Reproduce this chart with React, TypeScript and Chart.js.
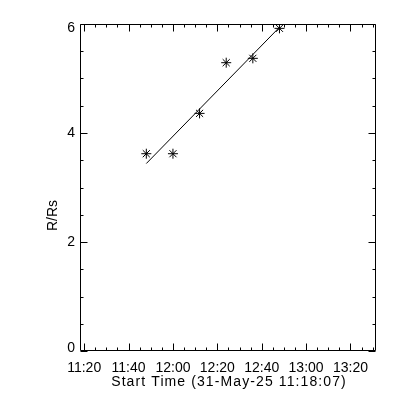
import React, { useEffect, useRef } from "react";
import { Chart, registerables } from "chart.js";

Chart.register(...registerables);

// ---- data ----
const obsTimes = ["11:48", "12:00", "12:12", "12:24", "12:36", "12:48"];
const obsHeights = [3.62, 3.62, 4.36, 5.29, 5.37, 5.92];
const fitTimes = ["11:48", "12:48"];
const fitHeights = [3.44, 5.94];
const xTickLabels = ["11:20", "11:40", "12:00", "12:20", "12:40", "13:00", "13:20"];
const yTickValues = [0, 2, 4, 6];
const axisStart = "11:18:07";
const axisEnd = "13:31:30";
const xTitle = "Start Time (31-May-25 11:18:07)";
const yTitle = "R/Rs";

const toMin = (t: string) => {
  const p = t.split(":").map(Number);
  return p[0] * 60 + p[1] + (p[2] || 0) / 60;
};

const FONT = '14px "Liberation Sans", Arial, sans-serif';

const idlAxes = {
  id: "idlAxes",
  afterDraw(chart: any) {
    const ctx = chart.ctx as CanvasRenderingContext2D;
    const a = chart.chartArea;
    const xs = chart.scales.x;
    const ys = chart.scales.y;
    const L = Math.round(a.left) + 0.5;
    const R = Math.round(a.right) - 0.5;
    const T = Math.round(a.top) + 0.5;
    const B = Math.round(a.bottom) - 0.5;
    ctx.save();
    ctx.strokeStyle = "#000";
    ctx.lineWidth = 1;
    ctx.beginPath();
    ctx.rect(L, T, R - L, B - T);
    ctx.stroke();

    // x ticks (minor every 5 min, major every 20 min)
    ctx.beginPath();
    const xmin = xs.min, xmax = xs.max;
    for (let v = Math.ceil(xmin / 5) * 5; v <= xmax; v += 5) {
      const px = Math.round(xs.getPixelForValue(v)) + 0.5;
      const len = v % 20 === 0 ? 7 : 3;
      ctx.moveTo(px, B);
      ctx.lineTo(px, B - len);
      ctx.moveTo(px, T);
      ctx.lineTo(px, T + len);
    }
    // y ticks (minor every 0.5, major every 2)
    for (let v = 0; v <= 6.0001; v += 0.5) {
      const py = Math.round(ys.getPixelForValue(v)) + 0.5;
      const len = Math.abs(v % 2) < 1e-6 ? 7 : 3;
      ctx.moveTo(L, py);
      ctx.lineTo(L + len, py);
      ctx.moveTo(R, py);
      ctx.lineTo(R - len, py);
    }
    ctx.stroke();

    ctx.fillStyle = "#000";
    ctx.font = FONT;
    ctx.textAlign = "center";
    ctx.textBaseline = "alphabetic";
    xTickLabels.forEach((lab) => {
      const px = xs.getPixelForValue(toMin(lab));
      ctx.fillText(lab, px, a.bottom + 21);
    });
    ctx.textAlign = "right";
    ctx.textBaseline = "middle";
    yTickValues.forEach((v) => {
      let py = ys.getPixelForValue(v);
      py = Math.min(Math.max(py, a.top + 4), a.bottom - 3);
      ctx.fillText(String(v), a.left - 5, py);
    });
    ctx.textAlign = "center";
    ctx.textBaseline = "alphabetic";
    (ctx as any).letterSpacing = "1.1px";
    ctx.fillText(xTitle, (a.left + a.right) / 2 + 1, a.bottom + 35);
    (ctx as any).letterSpacing = "0px";
    ctx.save();
    ctx.translate(57, (a.top + a.bottom) / 2 + 28);
    ctx.rotate(-Math.PI / 2);
    ctx.fillText(yTitle, 0, 0);
    ctx.restore();
    ctx.restore();
  },
};

export default function App() {
  const ref = useRef<HTMLCanvasElement>(null);
  useEffect(() => {
    if (!ref.current) return;
    const chart = new Chart(ref.current, {
      type: "scatter",
      data: {
        datasets: [
          {
            type: "line",
            data: fitTimes.map((t, i) => ({ x: toMin(t), y: fitHeights[i] })),
            borderColor: "#000",
            borderWidth: 1,
            pointRadius: 0,
            fill: false,
          } as any,
          {
            type: "scatter",
            data: obsTimes.map((t, i) => ({ x: toMin(t), y: obsHeights[i] })),
            pointStyle: "star",
            pointRadius: 5,
            borderColor: "#000",
            backgroundColor: "#000",
            pointBorderWidth: 1,
            borderWidth: 1,
          } as any,
        ],
      },
      options: {
        responsive: false,
        animation: false,
        layout: { padding: { left: 80, top: 24, right: 24, bottom: 49 } },
        plugins: { legend: { display: false }, tooltip: { enabled: false } },
        scales: {
          x: { type: "linear", min: toMin(axisStart), max: toMin(axisEnd), display: false },
          y: { type: "linear", min: 0, max: 6, display: false },
        },
      },
      plugins: [idlAxes],
    });
    return () => chart.destroy();
  }, []);
  return (
    <div style={{ position: "absolute", left: 0, top: 0, width: 400, height: 400, background: "#fff" }}>
      <canvas ref={ref} width={400} height={400} style={{ display: "block" }} />
    </div>
  );
}
